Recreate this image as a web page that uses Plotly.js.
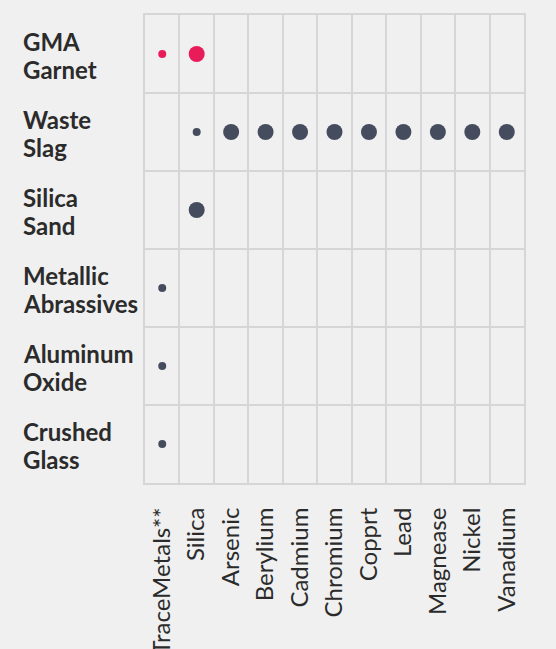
<!DOCTYPE html>
<html>
<head>
<meta charset="utf-8">
<script src="https://cdn.plot.ly/plotly-3.0.1.min.js"></script>
<style>
  html, body { margin: 0; padding: 0; background: #f0f0f0; }
  #chart { width: 556px; height: 649px; }
</style>
</head>
<body>
<div id="chart"></div>
<script>
// Columns (components tested) and rows (abrasive materials)
const components = ["TraceMetals**", "Silica", "Arsenic", "Berylium", "Cadmium", "Chromium", "Copprt", "Lead", "Magnease", "Nickel", "Vanadium"];
const materials = ["GMA<br>Garnet", "Waste<br>Slag", "Silica<br>Sand", "Metallic<br>Abrassives", "Aluminum<br>Oxide", "Crushed<br>Glass"];

// Level per component: 0 = none, 1 = small dot, 2 = large dot
const gmaGarnet        = [1, 2, 0, 0, 0, 0, 0, 0, 0, 0, 0];
const wasteSlag        = [0, 1, 2, 2, 2, 2, 2, 2, 2, 2, 2];
const silicaSand       = [0, 2, 0, 0, 0, 0, 0, 0, 0, 0, 0];
const metallicAbrasive = [1, 0, 0, 0, 0, 0, 0, 0, 0, 0, 0];
const aluminumOxide    = [1, 0, 0, 0, 0, 0, 0, 0, 0, 0, 0];
const crushedGlass     = [1, 0, 0, 0, 0, 0, 0, 0, 0, 0, 0];

const rows = [gmaGarnet, wasteSlag, silicaSand, metallicAbrasive, aluminumOxide, crushedGlass];
const rowColors = ["#e91c5a", "#454c5e", "#454c5e", "#454c5e", "#454c5e", "#454c5e"];
const dotSize = {1: 8, 2: 16};

const traces = rows.map((levels, r) => {
  const xs = [], ys = [], ss = [];
  levels.forEach((lv, c) => {
    if (lv > 0) { xs.push(components[c]); ys.push(materials[r]); ss.push(dotSize[lv]); }
  });
  return {
    type: "scatter", mode: "markers", x: xs, y: ys,
    marker: { size: ss, color: rowColors[r], opacity: 1, line: { width: 0 } },
    hoverinfo: "x+y", showlegend: false, cliponaxis: false
  };
});

// Row labels: left-aligned, two lines each with tighter line spacing
const labelFont = { family: "Lato, 'Open Sans', sans-serif", size: 24, color: "#2b2b2b", weight: "bold" };
const lineShifts = [13, -15];
const annotations = [];
materials.forEach(m => {
  m.split("<br>").forEach((line, i) => {
    annotations.push({
      xref: "paper", yref: "y", x: 0, y: m, xanchor: "left", yanchor: "middle",
      xshift: -124, yshift: lineShifts[i], align: "left", showarrow: false,
      text: line, font: labelFont
    });
  });
});

const layout = {
  width: 556, height: 649,
  margin: { l: 145, r: 32, t: 15, b: 166 },
  paper_bgcolor: "#f0f0f0", plot_bgcolor: "#f0f0f0",
  font: { family: "Lato, 'Open Sans', sans-serif", color: "#333333" },
  xaxis: {
    type: "category", categoryorder: "array", categoryarray: components,
    range: [-0.5, components.length - 0.5],
    tickson: "boundaries", showgrid: true, gridcolor: "#d6d6d6", gridwidth: 2,
    showline: true, mirror: true, linecolor: "#d6d6d6", linewidth: 2,
    ticks: "", tickangle: -90, ticklabelstandoff: 13,
    tickfont: { size: 24, color: "#2b2b2b", family: "Lato, 'Open Sans', sans-serif" },
    zeroline: false, fixedrange: true
  },
  yaxis: {
    type: "category", categoryorder: "array", categoryarray: materials.slice().reverse(),
    range: [-0.5, materials.length - 0.5],
    tickson: "boundaries", showgrid: true, gridcolor: "#d6d6d6", gridwidth: 2,
    showline: true, mirror: true, linecolor: "#d6d6d6", linewidth: 2,
    ticks: "", showticklabels: false, zeroline: false, fixedrange: true
  },
  annotations: annotations
};

Plotly.newPlot("chart", traces, layout, { displayModeBar: false, staticPlot: true });
</script>
</body>
</html>
